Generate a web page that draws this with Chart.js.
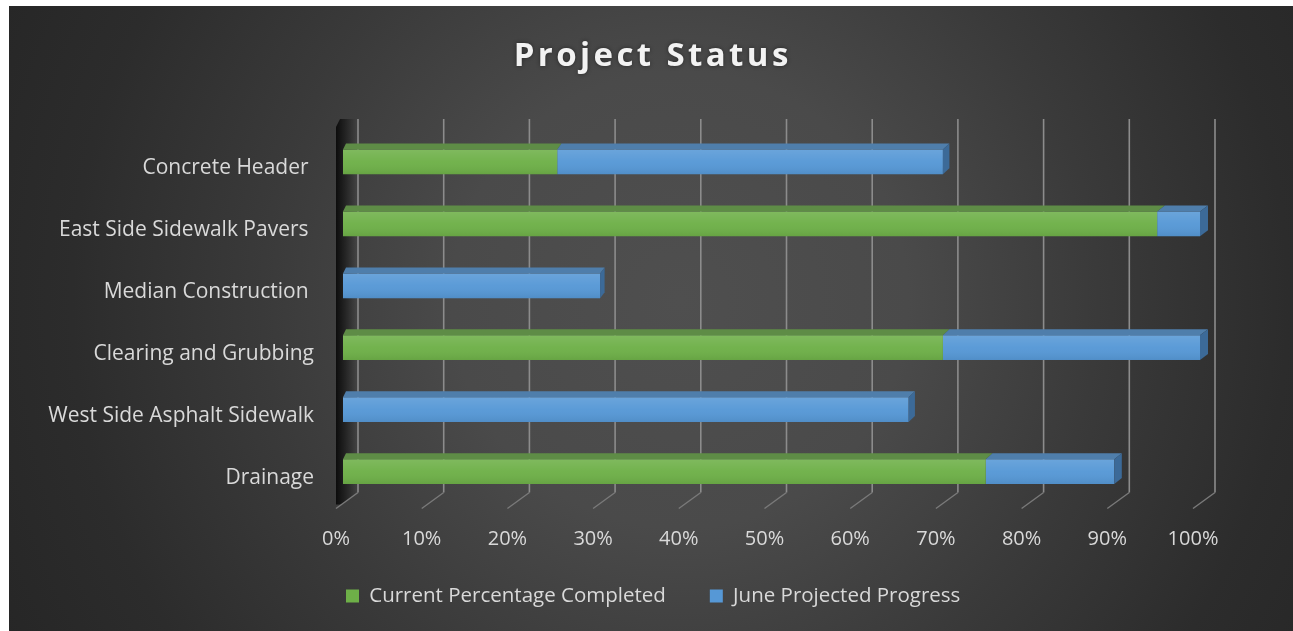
<!DOCTYPE html>
<html>
<head>
<meta charset="utf-8">
<script src="https://cdn.jsdelivr.net/npm/chart.js@4.4.1/dist/chart.umd.min.js"></script>
<style>
html,body{margin:0;padding:0;background:#ffffff;overflow:hidden}
canvas{display:block}
</style>
</head>
<body>
<canvas id="c" width="1293" height="631"></canvas>
<script>
// ---- data ----
const chartTitle = 'Project Status';
const categories = ['Concrete Header ', 'East Side Sidewalk Pavers ', 'Median Construction ', 'Clearing and Grubbing', 'West Side Asphalt Sidewalk', 'Drainage'];
const currentPct = [25, 95, 0, 70, 0, 75];
const juneProjected = [45, 5, 30, 30, 66, 15];
const seriesNames = ['Current Percentage Completed', 'June Projected Progress'];
const xTickValues = [0, 10, 20, 30, 40, 50, 60, 70, 80, 90, 100];
const xTickLabels = ['0%', '10%', '20%', '30%', '40%', '50%', '60%', '70%', '80%', '90%', '100%'];

// ---- styles ----
const FONT = 'Open Sans';
const TEXT = '#d9d9d9';
const frontColors = ['#6eb048', '#5698d6'];
const topColors = ['#5e8c46', '#4f7eab'];
const endColors = ['#4f7a38', '#3c6a98'];
const DY = 6;
const LEGEND_FONT = 20.5;
const LEGEND_PAD = 44;

const bgPlugin = {
  id: 'bg',
  beforeDraw(chart) {
    const ctx = chart.ctx;
    ctx.save();
    ctx.fillStyle = '#ffffff';
    ctx.fillRect(0, 0, chart.width, chart.height);
    const g = ctx.createRadialGradient(680, 300, 0, 680, 300, 760);
    g.addColorStop(0, '#4f4f4f');
    g.addColorStop(0.3, '#4a4a4a');
    g.addColorStop(0.55, '#3a3a3a');
    g.addColorStop(0.8, '#2c2c2c');
    g.addColorStop(1, '#262626');
    ctx.fillStyle = g;
    ctx.fillRect(9, 6, chart.width - 9, chart.height - 6);
    ctx.restore();
  }
};

function dxAt(chart, px) {
  const xs = chart.scales.x;
  const x0 = xs.getPixelForValue(0), x1 = xs.getPixelForValue(100);
  return 3 + 5 * (px - x0) / (x1 - x0);
}

const gridPlugin = {
  id: 'grid3d',
  beforeDatasetsDraw(chart) {
    const ctx = chart.ctx, xs = chart.scales.x, a = chart.chartArea;
    ctx.save();
    // left side wall shadow
    const x0 = xs.getPixelForValue(0);
    const wg = ctx.createLinearGradient(x0 - 7, 0, x0 + 13, 0);
    wg.addColorStop(0, 'rgba(0,0,0,0.8)');
    wg.addColorStop(0.45, 'rgba(0,0,0,0.45)');
    wg.addColorStop(1, 'rgba(0,0,0,0)');
    ctx.fillStyle = wg;
    ctx.beginPath();
    ctx.moveTo(x0 - 3, a.top - 12);
    ctx.lineTo(x0 + 14, a.top - 12);
    ctx.lineTo(x0 + 14, a.bottom - 10);
    ctx.lineTo(x0 - 1, a.bottom + 2);
    ctx.lineTo(x0 - 7, a.bottom + 2);
    ctx.lineTo(x0 - 7, a.top - 4);
    ctx.closePath();
    ctx.fill();
    // back wall + floor gridlines
    xTickValues.forEach(v => {
      const px = xs.getPixelForValue(v);
      ctx.strokeStyle = '#8c8c8c';
      ctx.lineWidth = 1.6;
      ctx.beginPath();
      ctx.moveTo(px + 15, a.top - 12);
      ctx.lineTo(px + 15, a.bottom - 10);
      ctx.stroke();
      ctx.strokeStyle = '#7a7a7a';
      ctx.lineWidth = 1.4;
      ctx.beginPath();
      ctx.moveTo(px + 15, a.bottom - 10);
      ctx.lineTo(px - 7, a.bottom + 6);
      ctx.stroke();
    });
    ctx.restore();
  }
};

const bar3dPlugin = {
  id: 'bar3d',
  afterDatasetsDraw(chart) {
    const ctx = chart.ctx;
    const dsets = chart.data.datasets;
    ctx.save();
    for (let i = 0; i < categories.length; i++) {
      let last = -1;
      dsets.forEach((ds, d) => { if (chart.isDatasetVisible(d) && ds.data[i] > 0) last = d; });
      dsets.forEach((ds, d) => {
        if (!chart.isDatasetVisible(d)) return;
        const el = chart.getDatasetMeta(d).data[i];
        if (!el) return;
        const p = el.getProps(['x', 'y', 'base', 'height'], true);
        const l = Math.min(p.x, p.base), r = Math.max(p.x, p.base);
        if (r - l < 0.5) return;
        const top = p.y - p.height / 2, bot = p.y + p.height / 2;
        // front shading
        const fg = ctx.createLinearGradient(0, top, 0, bot);
        fg.addColorStop(0, 'rgba(255,255,255,0.12)');
        fg.addColorStop(0.5, 'rgba(255,255,255,0.03)');
        fg.addColorStop(1, 'rgba(0,0,0,0.07)');
        ctx.fillStyle = fg;
        ctx.fillRect(l, top, r - l, bot - top);
        const dl = dxAt(chart, l), dr = dxAt(chart, r);
        // top face
        ctx.fillStyle = topColors[d];
        ctx.beginPath();
        ctx.moveTo(l, top);
        ctx.lineTo(l + dl, top - DY);
        ctx.lineTo(r + dr, top - DY);
        ctx.lineTo(r, top);
        ctx.closePath();
        ctx.fill();
        // end face
        if (d === last) {
          ctx.fillStyle = endColors[d];
          ctx.beginPath();
          ctx.moveTo(r, top);
          ctx.lineTo(r + dr, top - DY);
          ctx.lineTo(r + dr, bot - DY);
          ctx.lineTo(r, bot);
          ctx.closePath();
          ctx.fill();
        }
      });
    }
    ctx.restore();
  }
};

const titlePlugin = {
  id: 'spacedTitle',
  afterDraw(chart) {
    const ctx = chart.ctx;
    ctx.save();
    ctx.font = 'bold 33px "' + FONT + '"';
    try { ctx.letterSpacing = '3.4px'; } catch (e) {}
    ctx.fillStyle = '#f2f2f2';
    ctx.textAlign = 'center';
    ctx.textBaseline = 'alphabetic';
    ctx.shadowColor = 'rgba(0,0,0,0.45)';
    ctx.shadowBlur = 4;
    ctx.fillText(chartTitle, 652.7, 66);
    ctx.restore();
  }
};

const legendShift = {
  id: 'legendShift',
  afterLayout(chart) {
    const lg = chart.legend;
    if (lg) {
      const h = lg.bottom - lg.top;
      lg.left = 346 - LEGEND_PAD;
      lg.top = 596 - LEGEND_PAD - LEGEND_FONT / 2;
      lg.bottom = lg.top + h;
    }
  }
};

new Chart(document.getElementById('c'), {
  type: 'bar',
  data: {
    labels: categories,
    datasets: [
      { label: seriesNames[0], data: currentPct, backgroundColor: frontColors[0], borderWidth: 0 },
      { label: seriesNames[1], data: juneProjected, backgroundColor: frontColors[1], borderWidth: 0 }
    ]
  },
  options: {
    indexAxis: 'y',
    responsive: false,
    animation: false,
    devicePixelRatio: 1,
    layout: { padding: { left: 0, right: 93, top: 131, bottom: 0 } },
    datasets: { bar: { categoryPercentage: 1, barPercentage: 0.4 } },
    scales: {
      x: {
        stacked: true, min: 0, max: 100,
        grid: { display: false }, border: { display: false },
        ticks: {
          stepSize: 10, autoSkip: false, maxRotation: 0, color: TEXT,
          font: { family: FONT, size: 20 }, padding: 17, labelOffset: -7,
          callback: (v) => xTickLabels[xTickValues.indexOf(v)]
        },
        afterFit: (s) => { s.height = 631 - 502.5 - (LEGEND_FONT + LEGEND_PAD + 10); }
      },
      y: {
        stacked: true,
        grid: { display: false }, border: { display: false },
        ticks: { color: TEXT, font: { family: FONT, size: 21 }, padding: 21, labelOffset: 6 },
        afterFit: (s) => { s.width = 343; }
      }
    },
    plugins: {
      legend: {
        position: 'bottom', align: 'start',
        labels: { boxWidth: 13, boxHeight: 13, padding: LEGEND_PAD, color: TEXT, font: { family: FONT, size: LEGEND_FONT } }
      },
      tooltip: { enabled: false },
      title: { display: false }
    }
  },
  plugins: [bgPlugin, gridPlugin, bar3dPlugin, titlePlugin, legendShift]
});
</script>
</body>
</html>
